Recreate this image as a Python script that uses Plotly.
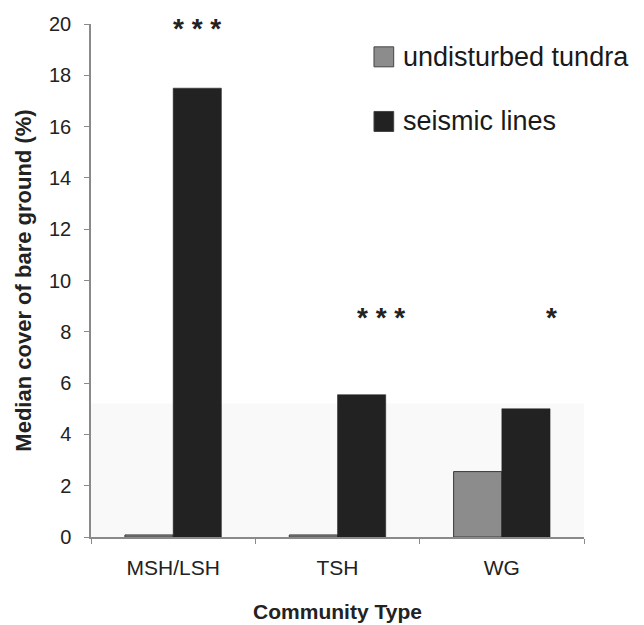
import plotly.graph_objects as go

categories = ["MSH/LSH", "TSH", "WG"]
undisturbed = [0.08, 0.08, 2.55]
seismic = [17.5, 5.55, 5.0]
signif_labels = ["* * *", "* * *", "*"]
signif_y = [20.0, 8.7, 8.7]
signif_shift = [24, 43, 50]
y_ticks = [0, 2, 4, 6, 8, 10, 12, 14, 16, 18, 20]
legend_names = ["undisturbed tundra", "seismic lines"]
legend_colors = ["#8c8c8c", "#222222"]

FONT = "Liberation Sans, Arial, sans-serif"

fig = go.Figure()
fig.add_trace(go.Bar(x=categories, y=undisturbed, name=legend_names[0],
                     marker=dict(color=legend_colors[0], line=dict(color="#3a3a3a", width=1))))
fig.add_trace(go.Bar(x=categories, y=seismic, name=legend_names[1],
                     marker=dict(color=legend_colors[1], line=dict(color="#222222", width=0.5))))

annotations = []
for c, lab, yv, sh in zip(categories, signif_labels, signif_y, signif_shift):
    annotations.append(dict(x=c, y=yv, xref="x", yref="y", text="<b>" + lab + "</b>", showarrow=False,
                            xshift=sh, yshift=-4, font=dict(family=FONT, size=28, color="#222")))

shapes = [dict(type="rect", xref="paper", yref="y", x0=0, x1=1, y0=0, y1=5.2,
               fillcolor="#f9f9f9", line=dict(width=0), layer="below")]

# manual legend (positions in paper coords)
leg_y = [0.936, 0.81]
for name, col, ly in zip(legend_names, legend_colors, leg_y):
    shapes.append(dict(type="rect", xref="paper", yref="paper",
                       x0=0.574, x1=0.614, y0=ly - 0.0195, y1=ly + 0.0195,
                       fillcolor=col, line=dict(color="#444", width=1)))
    annotations.append(dict(x=0.628, y=ly, xref="paper", yref="paper", text=name,
                            showarrow=False, xanchor="left", yanchor="middle",
                            font=dict(family=FONT, size=27, color="#1a1a1a")))

fig.update_layout(
    width=636, height=617,
    margin=dict(l=83, r=60, t=16, b=88),
    paper_bgcolor="white", plot_bgcolor="white",
    barmode="group", bargap=0.413, bargroupgap=0,
    showlegend=False,
    font=dict(family=FONT, color="#222"),
    annotations=annotations,
    shapes=shapes,
    xaxis=dict(
        automargin=False,
        showline=True, linecolor="#8a8a8a", linewidth=1.5,
        ticks="outside", tickson="boundaries", ticklen=5, tickcolor="#8a8a8a",
        ticklabelstandoff=11,
        tickfont=dict(family=FONT, size=21, color="#222"),
        title=dict(text="<b>Community Type</b>", font=dict(family=FONT, size=21, color="#222"), standoff=26),
        showgrid=False,
    ),
    yaxis=dict(
        automargin=False,
        range=[0, 20], tickvals=y_ticks,
        showline=True, linecolor="#8a8a8a", linewidth=1.5,
        ticks="outside", ticklen=5, tickcolor="#8a8a8a",
        ticklabelstandoff=9,
        tickfont=dict(family=FONT, size=20, color="#222"),
        title=dict(text="<b>Median cover of bare ground (%)</b>", font=dict(family=FONT, size=22, color="#222"), standoff=11),
        showgrid=False, zeroline=False,
    ),
)

fig.write_html("out.html")
